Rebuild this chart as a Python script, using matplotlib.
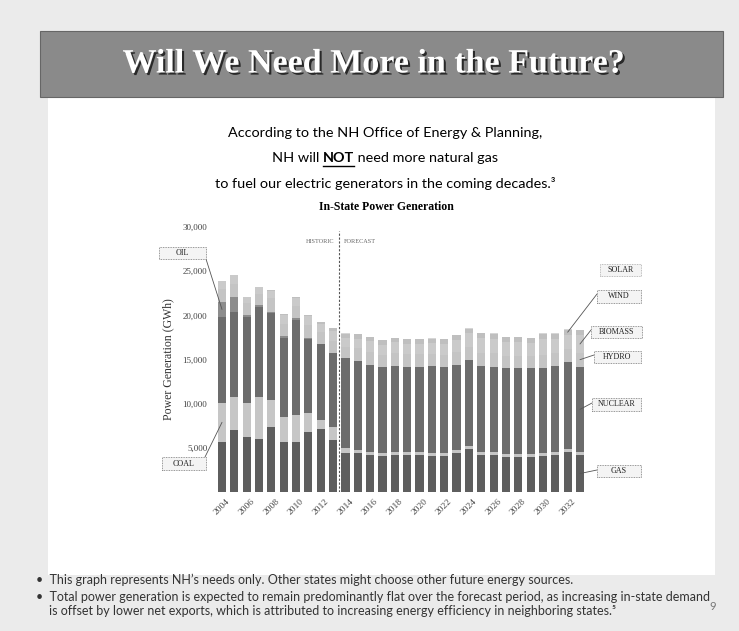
import numpy as np
import matplotlib
matplotlib.use("Agg")
import matplotlib.pyplot as plt
from matplotlib.patches import Rectangle
import matplotlib.patheffects as pe

# In-State Power Generation (GWh)
years = list(range(2004, 2034))
gas = [5690, 7010, 6180, 5960, 7310, 5690, 5690, 6820, 7090, 5880,
       4450, 4370, 4180, 4070, 4180, 4180, 4180, 4070, 4070, 4370,
       4900, 4180, 4180, 4000, 4000, 4000, 4070, 4180, 4560, 4180]
coal = [4400, 3770, 3850, 4820, 3090, 2830, 3020, 2080, 1050, 1510,
        500, 350, 350, 350, 350, 350, 350, 350, 350, 350,
        350, 350, 350, 350, 350, 350, 350, 350, 350, 350]
nuclear = [9740, 9620, 9800, 10180, 9810, 8860, 10740, 8370, 8560, 8290,
           10170, 10130, 9830, 9760, 9720, 9650, 9650, 9830, 9680, 9640,
           9750, 9720, 9650, 9640, 9640, 9640, 9570, 9720, 9830, 9650]
oil = [1670, 1690, 190, 210, 200, 240, 210, 200, 110, 90,
       0, 0, 0, 0, 0, 0, 0, 0, 0, 0,
       0, 0, 0, 0, 0, 0, 0, 0, 0, 0]
hydro = [1500, 1500, 1350, 1300, 1550, 1450, 1350, 1400, 1250, 1350,
         1300, 1400, 1450, 1350, 1450, 1400, 1400, 1400, 1430, 1450,
         1450, 1500, 1500, 1450, 1450, 1430, 1550, 1500, 1450, 1600]
biomass = [900, 950, 650, 750, 850, 1000, 1000, 1000, 950, 1100,
           1050, 1120, 1250, 1150, 1270, 1200, 1200, 1200, 1240, 1400,
           1500, 1700, 1690, 1550, 1550, 1490, 1820, 1610, 1620, 1950]
wind = [0, 0, 0, 0, 40, 60, 80, 150, 250, 400,
        450, 470, 480, 480, 490, 490, 490, 500, 500, 520,
        530, 540, 550, 550, 550, 550, 560, 560, 560, 560]
solar = [0, 0, 0, 0, 0, 0, 0, 0, 0, 0,
         30, 30, 30, 30, 30, 30, 30, 30, 30, 30,
         30, 30, 30, 30, 30, 30, 30, 30, 30, 30]
year_ticks = list(range(2004, 2033, 2))
y_ticks = [5000, 10000, 15000, 20000, 25000, 30000]

series = [("GAS", gas, "#5e5e5e"), ("COAL", coal, "#c6c6c6"),
          ("NUCLEAR", nuclear, "#6c6c6c"), ("OIL", oil, "#8c8c8c"),
          ("HYDRO", hydro, "#c4c4c4"), ("BIOMASS", biomass, "#cacaca"),
          ("WIND", wind, "#bfbfbf"), ("SOLAR", solar, "#d6d6d6")]

W, H = 739, 631
fig = plt.figure(figsize=(W / 100, H / 100), dpi=100)
fig.patch.set_facecolor("#ebebeb")

def fx(px):
    return px / W

def fy(py):
    return 1 - py / H

# slide body and title banner (kept behind the axes)
fig.patches.append(Rectangle((fx(48), fy(575)), fx(715) - fx(48), fy(98) - fy(575),
                             transform=fig.transFigure, facecolor="white", edgecolor="none", zorder=-10))
fig.patches.append(Rectangle((fx(40), fy(97)), fx(723) - fx(40), fy(31) - fy(97),
                             transform=fig.transFigure, facecolor="#8a8a8a", edgecolor="#666",
                             lw=0.8, zorder=-9))
fig.text(fx(373), fy(64), "Will We Need More in the Future?", color="white", fontsize=24.5,
         fontweight="bold", family="Liberation Serif", ha="center", va="center",
         path_effects=[pe.withSimplePatchShadow(offset=(1.5, -1.5), shadow_rgbFace="black", alpha=0.7)])

# subtitle
sans = ["Lato", "DejaVu Sans"]
fs_sub = 10.4
fig.text(fx(385), fy(133), "According to the NH Office of Energy & Planning,", fontsize=fs_sub,
         family=sans, ha="center", va="center")
fig.text(fx(385), fy(183), "to fuel our electric generators in the coming decades.\u00b3", fontsize=fs_sub,
         family=sans, ha="center", va="center")

renderer = fig.canvas.get_renderer()
parts = [("NH will ", "normal"), ("NOT", "bold"), (" need more natural gas", "normal")]
widths = []
for s, w in parts:
    t = fig.text(0, 0, s.replace(" ", "\u00a0"), fontsize=fs_sub, family=sans, fontweight=w)
    widths.append(t.get_window_extent(renderer).width)
    t.remove()
x0 = 385 - sum(widths) / 2
for (s, w), wd in zip(parts, widths):
    fig.text(fx(x0), fy(158), s.replace(" ", "\u00a0"), fontsize=fs_sub, family=sans,
             fontweight=w, ha="left", va="center")
    if s == "NOT":
        fig.add_artist(plt.Line2D([fx(x0), fx(x0 + wd)], [fy(166), fy(166)],
                                  transform=fig.transFigure, color="black", lw=1.0))
    x0 += wd

fig.text(fx(386), fy(207), "In-State Power Generation", fontsize=8.5, fontweight="bold",
         family="Liberation Serif", ha="center", va="center")

# chart
ax = fig.add_axes([fx(213), fy(492), fx(590) - fx(213), fy(227) - fy(492)])
ax.patch.set_alpha(0)
bottom = np.zeros(len(years))
for name, vals, col in series:
    ax.bar(years, vals, bottom=bottom, width=0.66, color=col, edgecolor="none")
    bottom += np.array(vals)

ax.set_xlim(2003.27, 2033.81)
ax.set_ylim(0, 30000)
for sp in ax.spines.values():
    sp.set_visible(False)
ax.set_yticks(y_ticks)
ax.set_yticklabels([f"{v:,}" for v in y_ticks], family="Liberation Serif", fontsize=6.5, color="#444")
ax.set_xticks(year_ticks)
ax.set_xticklabels([str(y) for y in year_ticks], rotation=45, ha="center", va="top",
                   family="Liberation Serif", fontsize=6.8, color="#444")
ax.tick_params(length=0, pad=4)
ax.set_ylabel("Power Generation (GWh)", family="Liberation Serif", fontsize=8.5, color="#333", labelpad=6)

ax.axvline(2013.5, ymin=0, ymax=0.985, color="#555", lw=0.8, ls=(0, (2, 1.5)))
ax.text(2013.1, 28400, "HISTORIC", fontsize=4.5, family="Liberation Serif", color="#666", ha="right", va="center")
ax.text(2013.9, 28400, "FORECAST", fontsize=4.5, family="Liberation Serif", color="#666", ha="left", va="center")

# series call-outs: fixed-size boxes with leader lines to the bars
cum = {}
base = np.zeros(len(years))
for name, vals, col in series:
    cum[name] = base + np.array(vals) / 2
    base = base + np.array(vals)

def label_box(name, x_left, x_right, y_top, y_bot, ec="#777"):
    fig.patches.append(Rectangle((fx(x_left), fy(y_bot)), fx(x_right) - fx(x_left), fy(y_top) - fy(y_bot),
                                 transform=fig.transFigure, facecolor="#f4f4f4", edgecolor=ec,
                                 lw=0.6, ls=(0, (1, 1)), zorder=3))
    fig.text(fx((x_left + x_right) / 2), fy((y_top + y_bot) / 2), name, fontsize=5.8,
             family="Liberation Serif", ha="center", va="center", color="#222", zorder=4)

# (name, box left, box right, box top, box bottom, line start x, line start y, year, index)
callouts = [("OIL", 159, 206, 247, 259, 206, 259, 2004, 0),
            ("COAL", 162, 206, 457, 470, 205, 457, 2004, 0),
            ("WIND", 597, 641, 290, 303, 597, 294, 2032, 28),
            ("BIOMASS", 591, 642, 326, 338, 591, 330, 2033, 29),
            ("HYDRO", 594, 641, 351, 363, 594, 355, 2033, 29),
            ("NUCLEAR", 592, 641, 398, 411, 592, 403, 2033, 29),
            ("GAS", 597, 641, 465, 477, 597, 470, 2033, 29)]
for name, xl, xr, yt, yb, sx, sy, yr, i in callouts:
    label_box(name, xl, xr, yt, yb)
    ax.annotate("", xy=(yr, cum[name][i]), xycoords="data",
                xytext=(fx(sx), fy(sy)), textcoords="figure fraction",
                arrowprops=dict(arrowstyle="-", color="#555", lw=0.6, shrinkA=0, shrinkB=0),
                annotation_clip=False)
label_box("SOLAR", 600, 641, 264, 276, ec="#aaa")

# footnotes
notes = [(580, "\u2022  This graph represents NH\u2019s needs only. Other states might choose other future energy sources."),
         (597, "\u2022  Total power generation is expected to remain predominantly flat over the forecast period, as increasing in-state demand"),
         (611, "    is offset by lower net exports, which is attributed to increasing energy efficiency in neighboring states.\u2075")]
for py, s in notes:
    fig.text(fx(36), fy(py), s, fontsize=9, family=sans, color="#333", ha="left", va="center")
fig.text(fx(713), fy(606), "9", fontsize=8, family=sans, color="#777", ha="center", va="center")

fig.savefig("out.png", dpi=100, facecolor=fig.get_facecolor())
